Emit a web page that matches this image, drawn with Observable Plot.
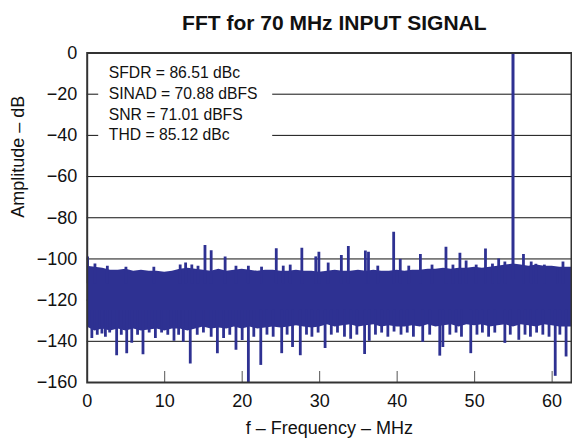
<!DOCTYPE html>
<html><head><meta charset="utf-8">
<script src="https://cdn.jsdelivr.net/npm/d3@7"></script>
<script src="https://cdn.jsdelivr.net/npm/@observablehq/plot@0.6"></script>
<style>
html,body{margin:0;padding:0;background:#fff;}
#chart svg{display:block;}
</style></head><body><div id="chart"></div>
<script>
const chartTitle = "FFT for 70 MHz INPUT SIGNAL";
const xLabel = "f – Frequency – MHz";
const yLabel = "Amplitude – dB";
const notes = ["SFDR = 86.51 dBc", "SINAD = 70.88 dBFS", "SNR = 71.01 dBFS", "THD = 85.12 dBc"];
const xTicks = [0, 10, 20, 30, 40, 50, 60];
const yTicks = [0, -20, -40, -60, -80, -100, -120, -140, -160];
const gridLevels = [-20, -40, -60, -80, -100, -120, -140];

// noise floor envelope, read every 1 MHz
const binFreq = [0,1,2,3,4,5,6,7,8,9,10,11,12,13,14,15,16,17,18,19,20,21,22,23,24,25,26,27,28,29,30,31,32,33,34,35,36,37,38,39,40,41,42,43,44,45,46,47,48,49,50,51,52,53,54,55,56,57,58,59,60,61,62,62.5];
const noiseTop = [-103.5,-104,-104.5,-105.5,-105.5,-105,-106,-105.5,-106,-106,-106.5,-106,-105,-104.5,-105,-105.5,-106,-105,-106,-105.5,-105,-105.5,-106,-105.5,-105.5,-106,-106,-105.5,-106,-106,-106.5,-106,-105.5,-106,-106,-105.5,-106,-105.5,-106,-106,-105.5,-106,-105.5,-105.5,-105,-105,-104.5,-105,-104.5,-104.5,-104,-104.5,-104,-103.5,-103,-102.5,-103,-103.5,-103,-103.5,-103.5,-104,-104,-104];
const noiseBottom = [-133,-135,-134,-135,-134,-135,-134,-135,-134.5,-134,-135,-134,-134,-135,-134,-133,-134,-133.5,-134,-133,-134,-133,-134,-133.5,-133,-133.5,-133,-132.5,-133,-133.5,-133,-132,-133,-132.5,-132,-133,-132.5,-132,-133,-132.5,-133,-133,-132.5,-133,-132,-133,-132.5,-132,-133,-132,-132.5,-132,-133,-132.5,-132,-133,-132,-132.5,-133,-132,-132.5,-133,-133,-133];

// spurs above the floor
const spurFreq = [0.05,1.0,2.6,5.0,8.6,12.0,12.7,13.5,14.3,15.2,16.0,17.8,19.2,20.8,22.5,24.4,25.3,26.2,27.7,29.5,29.9,31.1,32.8,33.7,35.9,36.3,37.5,39.55,40.4,41.5,43.0,44.5,46.3,47.2,48.1,48.9,50.2,51.4,52.3,53.1,53.9,56.3,57.3,57.9,59.0,60.7,61.4];
const spurLevel = [-99,-102.5,-103.5,-104,-104,-103,-102,-103,-103.5,-93.5,-96,-99,-103.5,-103.5,-104,-95,-103.5,-103,-94.8,-99,-96.7,-102,-98.3,-94,-96.2,-96.7,-103.5,-87,-100.2,-103.5,-97.8,-103,-94.3,-103,-97.2,-101,-103,-95.2,-102.5,-100,-101.5,-97.8,-101.5,-102.6,-103,-104.5,-101.5];

// dips below the floor
const dipFreq = [0.6,1.3,1.9,2.35,2.9,3.8,4.4,5.1,5.75,6.5,7.2,8.0,8.8,9.6,10.4,11.2,11.8,12.4,13.3,14.2,15.0,16.0,16.8,17.6,18.4,19.2,20.0,20.8,21.5,22.4,23.2,24.0,25.1,25.8,26.5,27.5,28.3,29.0,29.8,30.7,31.5,32.3,33.2,34.0,34.8,35.8,36.4,37.2,38.0,38.8,39.6,40.5,41.3,42.1,43.3,44.2,45.5,45.9,46.8,47.6,48.3,49.5,50.3,51.0,51.8,52.6,53.9,54.6,55.7,56.5,57.2,58.0,58.8,59.6,60.4,61.0,61.8];
const dipLevel = [-138.6,-137,-136.5,-138,-136,-147,-137,-146,-141,-137,-146.5,-136,-138.6,-136,-137,-140,-137,-140.4,-151,-137,-136,-138,-146,-138.6,-137,-144.4,-139.6,-162,-138,-151.7,-137,-138,-146,-137,-143,-147,-137,-138,-136,-143.5,-137,-136,-138,-139,-137,-146.4,-140,-137,-136,-138,-135.5,-137,-136,-138,-140.5,-137,-147.2,-143,-137,-136,-138,-146,-137,-136,-138,-136,-141,-137,-139.5,-137,-138,-136,-137,-138,-157,-137,-147.6];

const signalFreq = [54.95];
const signalLevel = [-0.3];

const band = binFreq.map((f, i) => ({f, top: noiseTop[i], bottom: noiseBottom[i]}));
const spurs = spurFreq.map((f, i) => ({f, v: spurLevel[i]}));
const dips = dipFreq.map((f, i) => ({f, v: dipLevel[i]}));
const signal = signalFreq.map((f, i) => ({f, v: signalLevel[i]}));

const blue = "#2E3192";
const font = "'Liberation Sans', Arial, Helvetica, sans-serif";
const mTop = 52.5, mBottom = 61, mLeft = 86.7, H = 443;

const plot = Plot.plot({
  width: 572, height: H,
  marginTop: mTop, marginBottom: mBottom, marginLeft: mLeft, marginRight: 1,
  style: {fontFamily: font, color: "#111", background: "#fff"},
  x: {domain: [0, 62.5], axis: null},
  y: {domain: [-160, 0], axis: null},
  marks: [
    Plot.ruleY(gridLevels, {y: d => d, stroke: "#111", strokeWidth: 1}),
    Plot.areaY(band, {x: "f", y1: "bottom", y2: "top", fill: blue, clip: true}),
    Plot.ruleX(spurs, {x: "f", y1: -112, y2: "v", stroke: blue, strokeWidth: 2.8, clip: true}),
    Plot.ruleX(dips, {x: "f", y1: -125, y2: "v", stroke: blue, strokeWidth: 2.8, clip: true}),
    Plot.ruleX(signal, {x: "f", y1: -110, y2: "v", stroke: blue, strokeWidth: 3, clip: true}),
    Plot.ruleX(xTicks.slice(1), {x: d => d, insetTop: (H - mTop - mBottom) - 11, stroke: "#555", strokeWidth: 1}),
    Plot.axisY(yTicks, {tickSize: 0, tickPadding: 10, fontSize: 18, label: null}),
    Plot.axisX(xTicks, {tickSize: 0, tickPadding: 12, fontSize: 18, label: null}),
    Plot.text([chartTitle], {frameAnchor: "top", dy: -38, dx: 5, fontSize: 21, fontWeight: "bold"}),
    Plot.text([xLabel], {frameAnchor: "bottom", dy: 51, fontSize: 18}),
    Plot.text([yLabel], {frameAnchor: "left", dx: -68.7, rotate: -90, fontSize: 18}),
    Plot.text([notes.join("\n")], {frameAnchor: "top-left", dx: 21.6, dy: 10.5, lineAnchor: "top", textAnchor: "start", lineHeight: 1.32, fontSize: 15.7}),
    Plot.frame({stroke: "#333", strokeWidth: 2})
  ]
});
document.getElementById("chart").appendChild(plot);

// white box behind the statistics block (hides the grid there)
const noteText = Array.from(plot.querySelectorAll("text")).find(t => t.textContent.includes("SFDR"));
if (noteText) {
  const g = noteText.parentNode;
  const r = document.createElementNS("http://www.w3.org/2000/svg", "rect");
  r.setAttribute("x", mLeft + 11.5);
  r.setAttribute("y", mTop + 2);
  r.setAttribute("width", 174);
  r.setAttribute("height", 88);
  r.setAttribute("fill", "#fff");
  g.parentNode.insertBefore(r, g);
}
</script></body></html>
